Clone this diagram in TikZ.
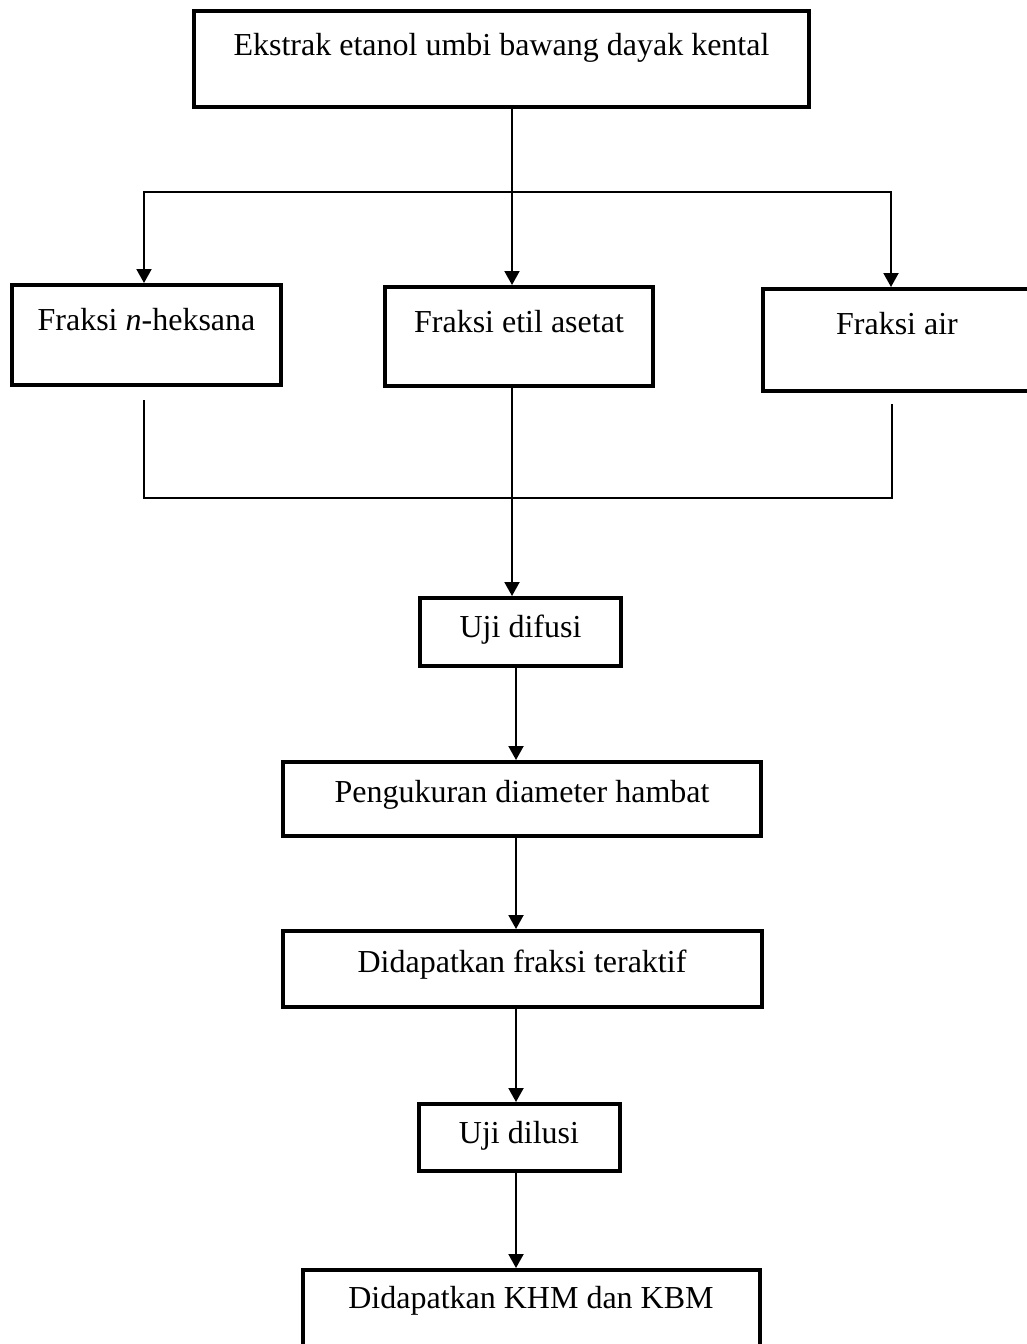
\documentclass[tikz,border=0pt]{standalone}
\usepackage{fontspec}
\setmainfont{Liberation Serif}
\usetikzlibrary{positioning, arrows.meta}
\tikzset{flowbox/.style={draw, line width=4pt, inner sep=0pt, font=\fontsize{32pt}{38pt}\selectfont}}
\tikzset{flowline/.style={draw, line width=1.7pt, line cap=rect}}
\tikzset{flowarr/.style={draw, line width=2pt, -{Triangle[length=14pt, width=15pt]}}}

\begin{document}
\begin{tikzpicture}[x=1pt, y=-1pt]
	\path[use as bounding box, fill=white] (0,0) rectangle (1027,1344);
	%
	\node[flowbox, anchor=north west, minimum width=615pt, text height=44pt, text depth=52pt] (ekstrak) at (192,9) {Ekstrak etanol umbi bawang dayak kental};
	%
	\node[flowbox, anchor=north west, minimum width=269pt, text height=45pt, text depth=55pt] (heksana) at (10,283) {Fraksi \textit{n}-heksana};
	\node[flowbox, anchor=north west, minimum width=268pt, text height=45pt, text depth=54pt] (etil) at (383,285) {Fraksi etil asetat};
	\node[flowbox, anchor=north west, minimum width=268pt, text height=45pt, text depth=57pt] (air) at (761,287) {Fraksi air};
	%
	\node[flowbox, below=208pt of etil, xshift=1.5pt, minimum width=201pt, text height=39pt, text depth=29pt] (difusi) {Uji difusi};
	\node[flowbox, below=92pt of difusi, xshift=1.5pt, minimum width=478pt, text height=40pt, text depth=34pt] (ukur) {Pengukuran diameter hambat};
	\node[flowbox, below=91pt of ukur, minimum width=479pt, text height=41pt, text depth=35pt] (teraktif) {Didapatkan fraksi teraktif};
	\node[flowbox, below=93pt of teraktif, xshift=-3pt, minimum width=201pt, text height=39pt, text depth=28pt] (dilusi) {Uji dilusi};
	\node[flowbox, below=95pt of dilusi, xshift=12pt, minimum width=457pt, text height=38pt, text depth=60pt] (khm) {Didapatkan KHM dan KBM};
	%
	\coordinate (split) at (512,192);
	\coordinate (splitL) at (144,192);
	\coordinate (splitR) at (891,192);
	\coordinate (tailL) at (144,401);
	\coordinate (tailR) at (892,405);
	\coordinate (joinL) at (144,498);
	\coordinate (joinR) at (892,498);
	\coordinate (axis) at (516,0);
	%
	\draw[flowline] (ekstrak.south -| split) -- (split);
	\draw[flowline] (splitL) -- (splitR);
	\draw[flowarr] (splitL) -- (heksana.north -| splitL);
	\draw[flowarr] (split) -- (etil.north -| split);
	\draw[flowarr] (splitR) -- (air.north -| splitR);
	%
	\draw[flowline] (tailL) -- (joinL) -- (joinR) -- (tailR);
	\draw[flowarr] (etil.south -| split) -- (difusi.north -| split);
	%
	\draw[flowarr] (difusi.south -| axis) -- (ukur.north -| axis);
	\draw[flowarr] (ukur.south -| axis) -- (teraktif.north -| axis);
	\draw[flowarr] (teraktif.south -| axis) -- (dilusi.north -| axis);
	\draw[flowarr] (dilusi.south -| axis) -- (khm.north -| axis);
\end{tikzpicture}
\end{document}
